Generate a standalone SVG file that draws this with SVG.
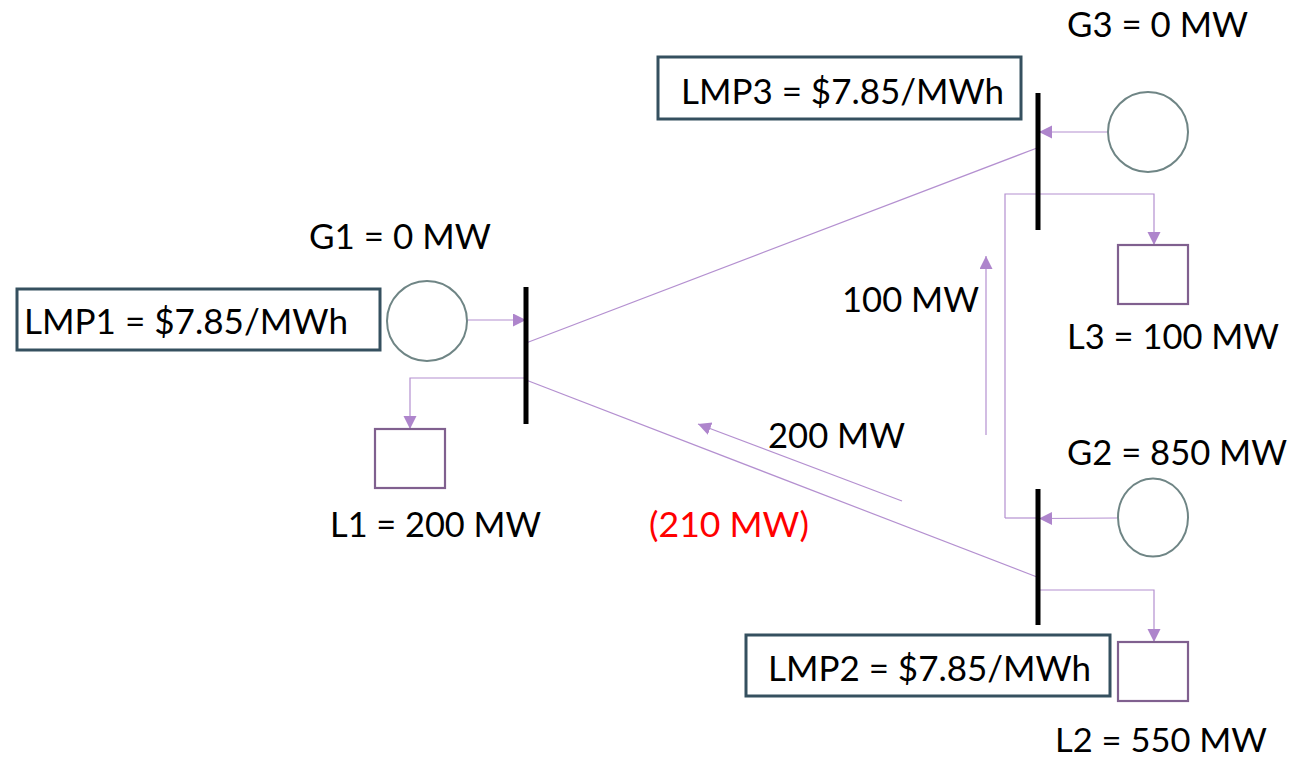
<svg xmlns="http://www.w3.org/2000/svg" width="1304" height="758" viewBox="0 0 1304 758">
<style>
text{font-family:Lato,"Open Sans","Liberation Sans",sans-serif;font-size:35px;fill:#000}
.lmp{fill:#fff;stroke:#35505f;stroke-width:3}
.gen{fill:#fff;stroke:#6f8585;stroke-width:2}
.load{fill:#fff;stroke:#80608f;stroke-width:2.2}
.bus{stroke:#000;stroke-width:5;fill:none}
.c{stroke:#b490d0;stroke-width:1.2;fill:none}
.a{marker-end:url(#ah)}
</style>
<defs><marker id="ah" markerUnits="userSpaceOnUse" markerWidth="14" markerHeight="14" refX="13" refY="6.500" orient="auto"><path d="M0 0L13 6.500L0 13Z" fill="#ae85cc"/></marker></defs>
<rect width="1304" height="758" fill="#fff"/>
<g id="connectors">
<path class="c a" d="M468 320H526"/>
<path class="c a" d="M526 378H410V429"/>
<path class="c" d="M526 343L1037 148"/>
<path class="c" d="M526 380L1037 577"/>
<path class="c a" d="M1108 132H1039"/>
<path class="c a" d="M1005 518V194H1154V245"/>
<path class="c a" d="M1117 518L1039 518.500"/>
<path class="c" d="M1005 518H1037"/>
<path class="c a" d="M1038 590H1154V642"/>
<path class="c a" d="M902 501L698 424"/>
<path class="c a" d="M986 435V256"/>
</g>
<g id="bus1"><path class="bus" d="M526 287V424"/></g>
<g id="bus2"><path class="bus" d="M1038 489V625"/></g>
<g id="bus3"><path class="bus" d="M1038 93V230"/></g>
<g id="g1"><circle class="gen" cx="427" cy="321" r="40"/><text x="309" y="249" textLength="182" lengthAdjust="spacingAndGlyphs">G1 = 0 MW</text></g>
<g id="g2"><ellipse class="gen" cx="1153" cy="517.500" rx="35" ry="39"/><text x="1067" y="465" textLength="220" lengthAdjust="spacingAndGlyphs">G2 = 850 MW</text></g>
<g id="g3"><circle class="gen" cx="1148" cy="132" r="40"/><text x="1067" y="37" textLength="181" lengthAdjust="spacingAndGlyphs">G3 = 0 MW</text></g>
<g id="l1"><rect class="load" x="375" y="429" width="70" height="59"/><text x="330" y="537" textLength="211" lengthAdjust="spacingAndGlyphs">L1 = 200 MW</text></g>
<g id="l2"><rect class="load" x="1118" y="642" width="70" height="59"/><text x="1055" y="752" textLength="212" lengthAdjust="spacingAndGlyphs" style="font-size:33px">L2 = 550 MW</text></g>
<g id="l3"><rect class="load" x="1118" y="245" width="70" height="59"/><text x="1067" y="349" textLength="212" lengthAdjust="spacingAndGlyphs">L3 = 100 MW</text></g>
<g id="lmp1"><rect class="lmp" x="17" y="289" width="363" height="61"/><text x="24" y="334" textLength="324" lengthAdjust="spacingAndGlyphs">LMP1 = $7.85/MWh</text></g>
<g id="lmp2"><rect class="lmp" x="746" y="635" width="364" height="61"/><text x="768" y="681" textLength="323" lengthAdjust="spacingAndGlyphs">LMP2 = $7.85/MWh</text></g>
<g id="lmp3"><rect class="lmp" x="658" y="57" width="363" height="62"/><text x="681" y="104" textLength="323" lengthAdjust="spacingAndGlyphs">LMP3 = $7.85/MWh</text></g>
<g id="flows">
<text x="842" y="312" textLength="137" lengthAdjust="spacingAndGlyphs">100 MW</text>
<text x="768" y="448" textLength="137" lengthAdjust="spacingAndGlyphs">200 MW</text>
<text x="649" y="537" textLength="160" lengthAdjust="spacingAndGlyphs" style="fill:#f00">(210 MW)</text>
</g>
</svg>
